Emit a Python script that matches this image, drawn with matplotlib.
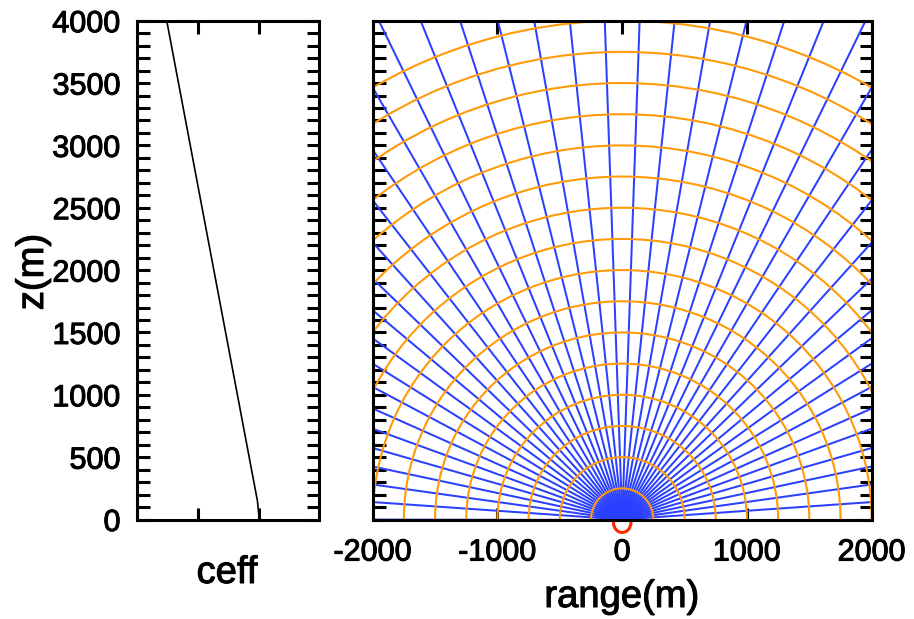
import matplotlib
matplotlib.use("Agg")
import numpy as np
import matplotlib.pyplot as plt
import matplotlib.patheffects as pe
from matplotlib.patches import Arc, Ellipse
from matplotlib.ticker import MultipleLocator, FixedLocator, NullFormatter

plt.rcParams['font.family'] = ['Liberation Sans', 'DejaVu Sans']

# effective sound speed profile
z_profile = [0, 150, 4000]
ceff_profile = [340.1, 339.8, 324.85]

# ray launch elevation angles (degrees)
launch_angles = [0, 4, 8, 12, 16, 20, 24, 28, 32, 36, 40, 44, 48, 52, 56, 60,
                 64, 68, 72, 76, 80, 84, 88, 92, 96, 100, 104, 108, 112, 116,
                 120, 124, 128, 132, 136, 140, 144, 148, 152, 156, 160, 164,
                 168, 172, 176, 180]

# wavefront radii (m)
wavefront_radii = [250, 500, 750, 1000, 1250, 1500, 1750, 2000, 2250, 2500,
                   2750, 3000, 3250, 3500, 3750, 4000]

# source location (m)
source_x = 0
source_z = -24

range_ticks = [-2000, -1000, 0, 1000, 2000]
z_ticks = [0, 500, 1000, 1500, 2000, 2500, 3000, 3500, 4000]

W, H = 914, 619
fig = plt.figure(figsize=(W / 100, H / 100), dpi=100)

ax_bottom = (H - 519.5) / H
ax_height = (519.5 - 20.7) / H
ax_c = fig.add_axes([137.3 / W, ax_bottom, 182.0 / W, ax_height])
ax_r = fig.add_axes([372.7 / W, ax_bottom, 499.0 / W, ax_height])

BLUE = '#2b40ff'
ORANGE = '#ff9a0a'

# slightly heavier glyph strokes for all text
thick = [pe.withStroke(linewidth=0.75, foreground='black')]

# ---- ceff panel ----
ax_c.plot(ceff_profile, z_profile, color='black', lw=1.2)
ax_c.set_xlim(320, 350)
ax_c.set_ylim(0, 4000)
ax_c.xaxis.set_major_locator(FixedLocator([330, 340]))
ax_c.xaxis.set_major_formatter(NullFormatter())
ax_c.yaxis.set_major_locator(FixedLocator(z_ticks))
ax_c.yaxis.set_minor_locator(MultipleLocator(100))

# ---- ray panel ----
L = 6000.0
for a in launch_angles:
    t = np.deg2rad(a)
    ax_r.plot([source_x, L * np.cos(t)], [0, L * np.sin(t)],
              color=BLUE, lw=1.45, solid_capstyle='butt', zorder=2)
for r in wavefront_radii:
    ax_r.add_patch(Arc((0, 0), 2 * r, 2 * r, theta1=0, theta2=180,
                       color=ORANGE, lw=1.5, zorder=2.2))
ax_r.add_patch(Ellipse((source_x, source_z), 140, 160, facecolor='none',
                       edgecolor='#ff2a00', lw=2.2, clip_on=False, zorder=1.5))
ax_r.set_xlim(-2000, 2000)
ax_r.set_ylim(0, 4000)
ax_r.xaxis.set_major_locator(FixedLocator(range_ticks))
ax_r.yaxis.set_major_locator(FixedLocator(z_ticks))
ax_r.yaxis.set_minor_locator(MultipleLocator(100))
ax_r.yaxis.set_major_formatter(NullFormatter())
ax_r.set_xticklabels([str(v) for v in range_ticks])

for ax in (ax_c, ax_r):
    for s in ax.spines.values():
        s.set_linewidth(2.2)
    ax.tick_params(which='both', direction='in', length=9, width=2.2,
                   top=True, right=True, labelsize=22, colors='black')
    ax.tick_params(axis='x', pad=13)
    ax.tick_params(axis='y', pad=12)
    for lbl in ax.get_xticklabels() + ax.get_yticklabels():
        lbl.set_path_effects(thick)

for txt, x, y, rot in [('z(m)', 33, 272, 90), ('ceff', 227, 573, 0),
                       ('range(m)', 622, 597, 0)]:
    fig.text(x / W, 1 - y / H, txt, rotation=rot, ha='center', va='center',
             fontsize=27.5, path_effects=thick)

fig.savefig('out.png', dpi=100)
